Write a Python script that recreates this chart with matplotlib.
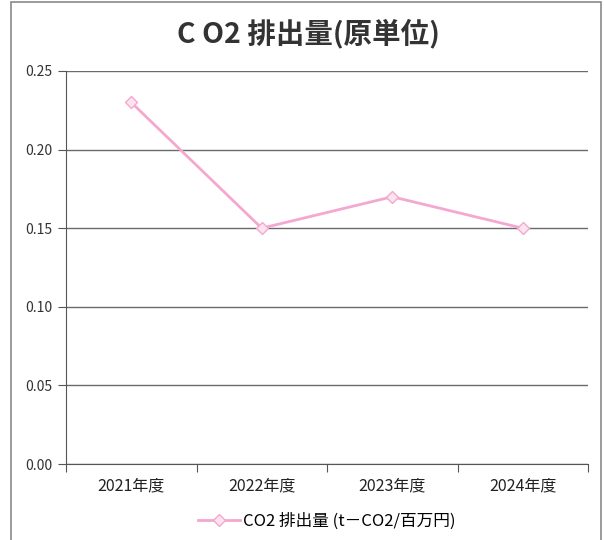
import matplotlib.pyplot as plt
from matplotlib.patches import Rectangle

plt.rcParams['font.family'] = ['Noto Sans CJK JP', 'DejaVu Sans']

years = ['2021年度', '2022年度', '2023年度', '2024年度']
co2 = [0.23, 0.15, 0.17, 0.15]
yticks = [0.00, 0.05, 0.10, 0.15, 0.20, 0.25]

fig = plt.figure(figsize=(6.04, 5.40), dpi=100)
ax = fig.add_axes([66 / 604, 1 - 464 / 540, 522 / 604, 393 / 540])

# outer chart frame
fig.patches.append(Rectangle((11 / 604, -0.01), 590 / 604, 1 - 2 / 540 + 0.01,
                             transform=fig.transFigure, fill=False,
                             edgecolor='#8a8a8a', linewidth=1.2))

x = range(len(years))
ax.plot(x, co2, color='#f4a8cf', linewidth=2, marker='D', markersize=6,
        markerfacecolor='#fbe3ef', markeredgecolor='#f4a8cf',
        label='CO2 排出量 (t－CO2/百万円)')

ax.set_xlim(-0.5, len(years) - 0.5)
ax.set_ylim(0, 0.25)
ax.set_yticks(yticks)
ax.set_yticklabels([f'{v:.2f}' for v in yticks], fontsize=10, color='#333333')
ax.yaxis.grid(True, color='#6a6a6a', linewidth=1)
ax.set_axisbelow(True)

# category labels centred, ticks on category boundaries
ax.set_xticks([i - 0.5 for i in range(len(years) + 1)])
ax.set_xticklabels([])
ax.set_xticks(list(x), minor=True)
ax.set_xticklabels(years, minor=True, fontsize=11.5, color='#222222')
ax.tick_params(axis='x', which='minor', length=0, pad=10)
ax.tick_params(axis='x', which='major', length=6, color='#555555')
ax.tick_params(axis='y', length=6, color='#555555', pad=4)

for s in ['top', 'right']:
    ax.spines[s].set_visible(False)
ax.spines['left'].set_color('#555555')
ax.spines['bottom'].set_color('#555555')

fig.text(0.51, 0.938, 'C O2 排出量(原単位)', ha='center', va='center',
         fontsize=20.5, fontweight='bold', color='#333333')

ax.legend(loc='upper center', bbox_to_anchor=(0.5, -0.085), frameon=False,
          fontsize=12, handlelength=2.5, handletextpad=0.2)

fig.savefig('out.png', dpi=100, facecolor='white')
